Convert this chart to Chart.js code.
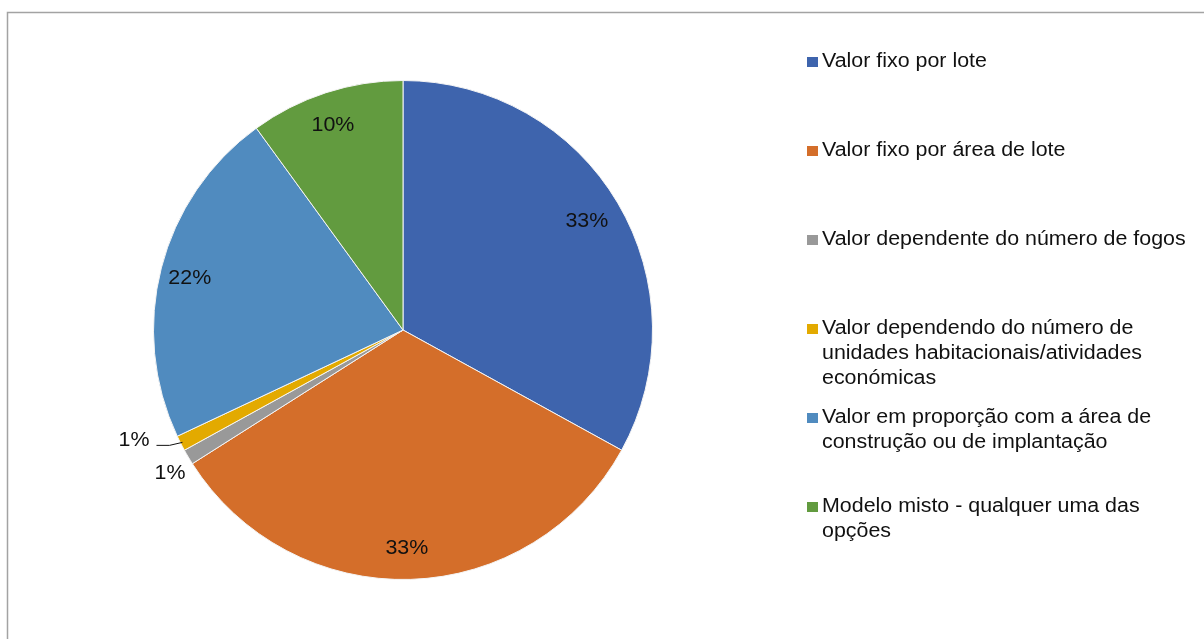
<!DOCTYPE html>
<html>
<head>
<meta charset="utf-8">
<script src="https://cdn.jsdelivr.net/npm/chart.js@4.4.1/dist/chart.umd.min.js"></script>
<style>
  html, body { margin: 0; padding: 0; background: #fff; }
  #wrap { width: 1204px; height: 639px; position: relative; }
</style>
</head>
<body>
<div id="wrap"><canvas id="pie" width="1204" height="639"></canvas></div>
<script>
// modelos de cálculo da taxa (percentagem de respostas)
const categorias = [
  ["Valor fixo por lote"],
  ["Valor fixo por área de lote"],
  ["Valor dependente do número de fogos"],
  ["Valor dependendo do número de", "unidades habitacionais/atividades", "económicas"],
  ["Valor em proporção com a área de", "construção ou de implantação"],
  ["Modelo misto - qualquer uma das", "opções"],
];
const valores = [33, 33, 1, 1, 22, 10];
const cores = ["#3e64ad", "#d46e2a", "#999999", "#e3aa00", "#508bbf", "#629b3f"];

const FONT = '20px "Liberation Sans", Arial, sans-serif';
const ESTICA = 1.07; // texto ligeiramente mais largo

function texto(c, t, x, y, align) {
  const w = c.measureText(t).width * ESTICA;
  let x0 = x;
  if (align === "center") x0 = x - w / 2;
  else if (align === "right") x0 = x - w;
  c.save();
  c.translate(x0, y);
  c.scale(ESTICA, 1);
  c.textAlign = "left";
  c.fillText(t, 0, 0);
  c.restore();
}

// moldura cinzenta à volta da área do gráfico
const moldura = {
  id: "moldura",
  beforeDraw(chart) {
    const c = chart.ctx;
    c.save();
    c.strokeStyle = "#a3a3a3";
    c.lineWidth = 1.5;
    c.beginPath();
    c.moveTo(7.5, chart.height);
    c.lineTo(7.5, 12.5);
    c.lineTo(chart.width, 12.5);
    c.stroke();
    c.restore();
  }
};

// percentagens sobre as fatias
const rotulos = {
  id: "rotulos",
  afterDatasetsDraw(chart) {
    const c = chart.ctx;
    const arcs = chart.getDatasetMeta(0).data;
    const total = valores.reduce((a, b) => a + b, 0);
    c.save();
    c.font = FONT;
    c.fillStyle = "#111";
    c.textBaseline = "middle";
    arcs.forEach((arc, i) => {
      const p = arc.getProps(["x", "y", "startAngle", "endAngle", "outerRadius"], true);
      const mid = (p.startAngle + p.endAngle) / 2;
      const txt = Math.round(valores[i] / total * 100) + "%";
      const cos = Math.cos(mid), sin = Math.sin(mid);
      if (i === 3) {
        // fatia pequena com linha de chamada
        const ex = p.x + cos * (p.outerRadius - 2);
        const ey = p.y + sin * (p.outerRadius - 2);
        c.strokeStyle = "#111";
        c.lineWidth = 1;
        c.beginPath();
        c.moveTo(ex, ey);
        c.lineTo(ex - 13, ey + 3);
        c.lineTo(ex - 26, ey + 3);
        c.stroke();
        texto(c, txt, ex - 33, ey - 2, "right");
      } else if (i === 2) {
        texto(c, txt, p.x + cos * p.outerRadius * 1.085, p.y + sin * p.outerRadius * 1.085 + 6, "center");
      } else {
        const r = p.outerRadius * 0.87;
        texto(c, txt, p.x + cos * r - 3, p.y + sin * r + 2, "center");
      }
    });
    c.restore();
  }
};

// legenda à direita com etiquetas em várias linhas
const legenda = {
  id: "legenda",
  afterDraw(chart) {
    const c = chart.ctx;
    c.save();
    c.font = FONT;
    c.textBaseline = "alphabetic";
    categorias.forEach((linhas, i) => {
      const base = 67 + i * 89;
      c.fillStyle = cores[i];
      c.fillRect(807, base - 10, 11, 10);
      c.fillStyle = "#111";
      linhas.forEach((t, k) => texto(c, t, 822, base + k * 25, "left"));
    });
    c.restore();
  }
};

new Chart(document.getElementById("pie"), {
  type: "pie",
  data: {
    labels: categorias,
    datasets: [{
      data: valores,
      backgroundColor: cores,
      borderColor: "#f4f4f4",
      borderWidth: 1,
    }],
  },
  options: {
    responsive: false,
    animation: false,
    layout: { padding: { left: 153, right: 551, top: 80, bottom: 59 } },
    plugins: {
      legend: { display: false },
      tooltip: { enabled: false },
    },
  },
  plugins: [moldura, rotulos, legenda],
});
</script>
</body>
</html>
